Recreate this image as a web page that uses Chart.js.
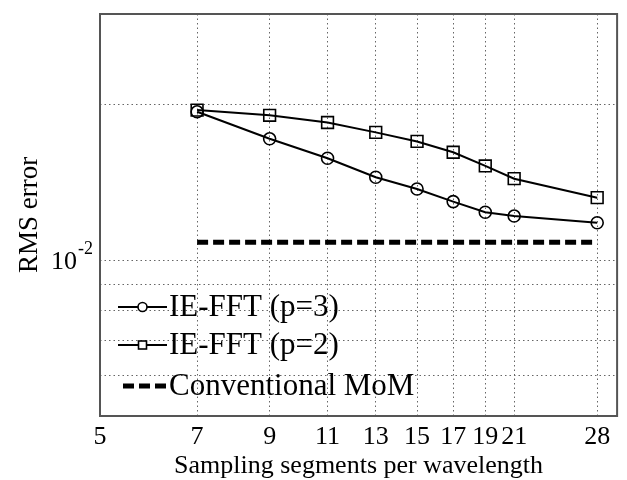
<!DOCTYPE html>
<html>
<head>
<meta charset="utf-8">
<script src="https://cdn.jsdelivr.net/npm/chart.js@4.4.0/dist/chart.umd.min.js"></script>
<style>
  html, body { margin: 0; padding: 0; background: #fff; }
  #wrap { width: 627px; height: 480px; }
</style>
</head>
<body>
<div id="wrap"><canvas id="rmsChart" width="627" height="480"></canvas></div>
<script>
const segments = [7, 9, 11, 13, 15, 17, 19, 21, 28];
const errP3 = [0.0194, 0.0172, 0.01577, 0.01449, 0.01375, 0.0130, 0.0124, 0.01219, 0.01183];
const errP2 = [0.01955, 0.0191, 0.0185, 0.0177, 0.0170, 0.0162, 0.01524, 0.0144, 0.01323];
const momRange = [7, 28];
const momError = 0.01085;
const xTicks = [5, 7, 9, 11, 13, 15, 17, 19, 21, 28];
const yTicks = [0.005, 0.006, 0.007, 0.008, 0.009, 0.01, 0.02, 0.03];
const seriesNames = ['IE-FFT (p=3)', 'IE-FFT (p=2)', 'Conventional MoM'];

const serif = '"Liberation Serif", "Times New Roman", serif';

// box round the plot, the 10^-2 label and the legend in the lower left
const framePlugin = {
  id: 'frame',
  afterDraw(chart) {
    const { ctx, chartArea: a } = chart;
    ctx.save();
    ctx.strokeStyle = '#555';
    ctx.lineWidth = 2;
    ctx.strokeRect(a.left, a.top, a.right - a.left, a.bottom - a.top);

    // y tick label with a real superscript
    const yPix = chart.scales.y.getPixelForValue(0.01);
    ctx.fillStyle = '#000';
    ctx.textBaseline = 'alphabetic';
    ctx.textAlign = 'right';
    ctx.font = '26px ' + serif;
    ctx.fillText('10', a.left - 23, yPix + 9);
    ctx.textAlign = 'left';
    ctx.font = '18px ' + serif;
    ctx.fillText('-2', a.left - 22, yPix - 6);

    // legend
    const x0 = a.left + 18, x1 = a.left + 67, xm = (x0 + x1) / 2;
    const rowY = [a.bottom - 109, a.bottom - 71, a.bottom - 30];
    chart.data.datasets.forEach((ds, i) => {
      const y = rowY[i];
      ctx.strokeStyle = '#000';
      ctx.setLineDash(ds.borderDash || []);
      ctx.lineWidth = ds.borderWidth;
      ctx.beginPath();
      ctx.moveTo(x0 + (ds.borderDash ? 5 : 0), y);
      ctx.lineTo(x1, y);
      ctx.stroke();
      ctx.setLineDash([]);
      ctx.lineWidth = 1.6;
      if (ds.pointStyle === 'circle') {
        ctx.fillStyle = '#fff';
        ctx.beginPath();
        ctx.arc(xm, y, 4.5, 0, Math.PI * 2);
        ctx.fill();
        ctx.stroke();
      } else if (ds.pointStyle === 'rect') {
        ctx.fillStyle = '#fff';
        ctx.fillRect(xm - 4, y - 4, 8, 8);
        ctx.strokeRect(xm - 4, y - 4, 8, 8);
      }
      ctx.fillStyle = '#000';
      ctx.font = '31px ' + serif;
      ctx.textAlign = 'left';
      ctx.textBaseline = 'middle';
      ctx.fillText(ds.label, x1 + 2, y + 1);
    });
    ctx.restore();
  }
};

new Chart(document.getElementById('rmsChart'), {
  type: 'line',
  data: {
    datasets: [
      {
        label: seriesNames[0],
        data: segments.map((x, i) => ({ x: x, y: errP3[i] })),
        borderColor: '#000',
        borderWidth: 2,
        pointStyle: 'circle',
        pointRadius: 6,
        pointBorderWidth: 1.6,
        pointBorderColor: '#000',
        pointBackgroundColor: 'rgba(255,255,255,0)'
      },
      {
        label: seriesNames[1],
        data: segments.map((x, i) => ({ x: x, y: errP2[i] })),
        borderColor: '#000',
        borderWidth: 2,
        pointStyle: 'rect',
        pointRadius: 8.3,
        pointBorderWidth: 1.6,
        pointBorderColor: '#000',
        pointBackgroundColor: 'rgba(255,255,255,0)'
      },
      {
        label: seriesNames[2],
        data: momRange.map(x => ({ x: x, y: momError })),
        borderColor: '#000',
        borderWidth: 5,
        borderDash: [11, 5],
        pointRadius: 0
      }
    ]
  },
  options: {
    responsive: false,
    animation: false,
    layout: { padding: { top: 14, right: 6, left: 0, bottom: 0 } },
    plugins: {
      legend: { display: false },
      tooltip: { enabled: false }
    },
    scales: {
      x: {
        type: 'logarithmic',
        min: 5,
        max: 30,
        afterBuildTicks: s => { s.ticks = xTicks.map(v => ({ value: v })); },
        afterFit: s => { s.height = 64; },
        ticks: {
          autoSkip: false,
          maxRotation: 0,
          padding: 6,
          color: '#000',
          font: { family: serif, size: 26 },
          callback: v => String(v)
        },
        grid: { color: '#666', lineWidth: 1, drawTicks: false },
        border: { display: false, dash: [1.5, 3] },
        title: {
          display: true,
          text: 'Sampling segments per wavelength',
          color: '#000',
          font: { family: serif, size: 26 },
          padding: { top: 0, bottom: -2 }
        }
      },
      y: {
        type: 'logarithmic',
        min: 0.005,
        max: 0.03,
        afterBuildTicks: s => { s.ticks = yTicks.map(v => ({ value: v })); },
        afterFit: s => { s.width = 100; },
        ticks: { callback: () => '' },
        grid: { color: '#666', lineWidth: 1, drawTicks: false },
        border: { display: false, dash: [1.5, 3] },
        title: {
          display: true,
          text: 'RMS error',
          color: '#000',
          font: { family: serif, size: 27 },
          padding: { top: 14, bottom: 0 }
        }
      }
    }
  },
  plugins: [framePlugin]
});
</script>
</body>
</html>
